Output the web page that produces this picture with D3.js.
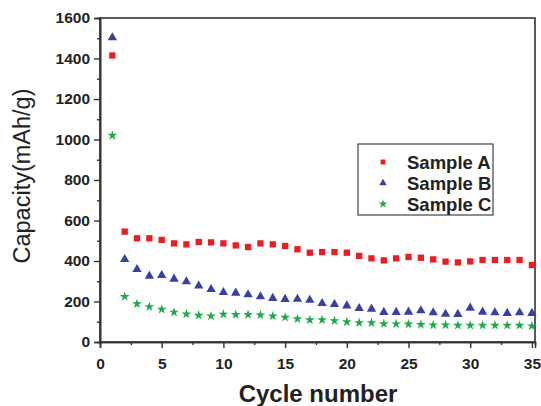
<!DOCTYPE html>
<html>
<head>
<meta charset="utf-8">
<script src="https://cdn.jsdelivr.net/npm/d3@7"></script>
<style>
  body { margin: 0; background: #fff; }
  text { font-family: Arial, "Liberation Sans", sans-serif; }
</style>
</head>
<body>
<div id="chart"></div>
<script>
// cycle numbers and capacities (mAh/g)
var cycles = d3.range(1, 36);
var sampleA = [1415, 545, 512, 512, 504, 487, 482, 494, 492, 487, 477, 469, 487, 482, 474,
  458, 441, 444, 444, 441, 425, 413, 403, 413, 420, 416, 408, 397, 393, 398, 405, 405, 405, 405, 380];
var sampleB = [1503, 408, 359, 326, 329, 311, 298, 277, 260, 245, 242, 234, 224, 216, 211,
  212, 207, 191, 186, 179, 166, 163, 147, 147, 148, 155, 145, 138, 137, 168, 148, 145, 142, 145, 142];
var sampleC = [1020, 224, 188, 174, 161, 147, 138, 132, 128, 137, 135, 135, 133, 128, 122,
  114, 109, 109, 105, 99, 95, 95, 90, 89, 88, 86, 84, 84, 82, 82, 82, 82, 82, 82, 79];
var seriesNames = ["Sample A", "Sample B", "Sample C"];
var xTicks = [0, 5, 10, 15, 20, 25, 30, 35];
var yTicks = [0, 200, 400, 600, 800, 1000, 1200, 1400, 1600];

var W = 541, H = 406;
var margin = { top: 18, right: 6, bottom: 64, left: 100 };

var svg = d3.select('#chart').append('svg')
  .attr('width', W)
  .attr('height', H);

var x = d3.scaleLinear().domain([0, 35.25]).range([margin.left, W - margin.right]);
var y = d3.scaleLinear().domain([0, 1600]).range([H - margin.bottom, margin.top]);

var colors = ["#ec1c24", "#3a40a0", "#1faa4a"];
var shapes = [d3.symbolSquare, d3.symbolTriangle, d3.symbolStar];
var sizes = [40, 38, 30];

// frame
svg.append('rect')
  .attr('x', x(0)).attr('y', y(1600))
  .attr('width', x.range()[1] - x(0))
  .attr('height', y(0) - y(1600))
  .attr('fill', 'none')
  .attr('stroke', '#333')
  .attr('stroke-width', 1.6);

// x axis
svg.append('g')
  .attr('transform', `translate(0, ${y(0)})`)
  .call(d3.axisBottom(x).tickValues(xTicks).tickSize(6).tickPadding(10));
svg.append('g')
  .attr('transform', `translate(0, ${y(0)})`)
  .call(d3.axisBottom(x).tickValues(d3.range(2.5, 35, 5)).tickSize(3).tickFormat(''));

// y axis
svg.append('g')
  .attr('transform', `translate(${x(0)}, 0)`)
  .call(d3.axisLeft(y).tickValues(yTicks).tickSize(6).tickPadding(4).tickFormat(d3.format('d')));
svg.append('g')
  .attr('transform', `translate(${x(0)}, 0)`)
  .call(d3.axisLeft(y).tickValues(d3.range(100, 1600, 200)).tickSize(3).tickFormat(''));

svg.selectAll('.domain').attr('stroke', '#333').attr('stroke-width', 1.6);
svg.selectAll('.tick line').attr('stroke', '#333').attr('stroke-width', 1.4);
svg.selectAll('.tick text')
  .attr('font-size', 15.5)
  .attr('font-weight', 'bold')
  .attr('fill', '#222');

// points
[sampleA, sampleB, sampleC].forEach(function(vals, i) {
  svg.append('g').selectAll('path')
    .data(vals)
    .enter()
    .append('path')
    .attr('transform', (d, j) => `translate(${x(cycles[j])}, ${y(d)})`)
    .attr('d', d3.symbol().type(shapes[i]).size(sizes[i]))
    .attr('fill', colors[i]);
});

// legend
var lg = svg.append('g');
lg.append('rect')
  .attr('x', 358).attr('y', 144)
  .attr('width', 135).attr('height', 71)
  .attr('fill', '#fff')
  .attr('stroke', '#444')
  .attr('stroke-width', 1.2);
seriesNames.forEach(function(name, i) {
  var yy = 162 + i * 21;
  lg.append('path')
    .attr('transform', `translate(383, ${yy})`)
    .attr('d', d3.symbol().type(shapes[i]).size(24))
    .attr('fill', colors[i]);
  lg.append('text')
    .attr('x', 407).attr('y', yy + 6.5)
    .attr('font-size', 18.5)
    .attr('font-weight', 'bold')
    .attr('fill', '#222')
    .text(name);
});

// axis titles
svg.append('text')
  .attr('transform', 'translate(30, 176) rotate(-90)')
  .attr('text-anchor', 'middle')
  .attr('font-size', 23.5)
  .attr('fill', '#222')
  .text('Capacity(mAh/g)');

svg.append('text')
  .attr('x', 318).attr('y', 402)
  .attr('text-anchor', 'middle')
  .attr('font-size', 24)
  .attr('font-weight', 'bold')
  .attr('fill', '#222')
  .text('Cycle number');
</script>
</body>
</html>
